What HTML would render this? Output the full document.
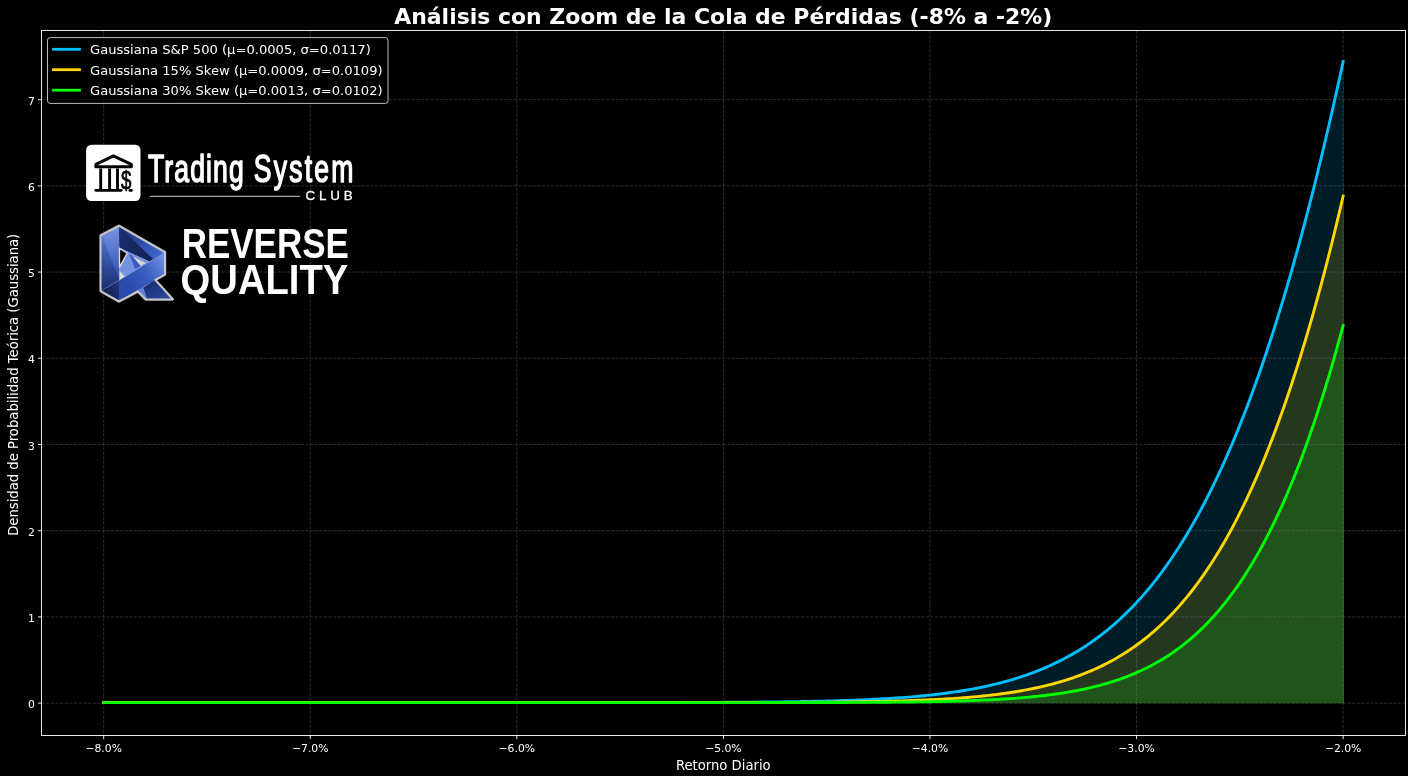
<!DOCTYPE html>
<html lang="es"><head><meta charset="utf-8"><title>Análisis con Zoom de la Cola de Pérdidas</title>
<style>html,body{margin:0;padding:0;background:#000;overflow:hidden}body{width:1408px;height:776px}svg text{white-space:pre}</style></head>
<body>
<svg width="1408" height="776" viewBox="0 0 1408 776" style="display:block">
<rect width="1408" height="776" fill="#000"/>
<polygon points="103.67,703.15 103.67,702.60 106.78,702.60 109.88,702.60 112.99,702.60 116.10,702.60 119.20,702.60 122.31,702.60 125.42,702.60 128.52,702.60 131.63,702.60 134.73,702.60 137.84,702.60 140.95,702.60 144.05,702.60 147.16,702.60 150.27,702.60 153.37,702.60 156.48,702.60 159.59,702.60 162.69,702.60 165.80,702.60 168.91,702.60 172.01,702.60 175.12,702.60 178.23,702.60 181.33,702.60 184.44,702.60 187.54,702.60 190.65,702.60 193.76,702.60 196.86,702.60 199.97,702.60 203.08,702.60 206.18,702.60 209.29,702.60 212.40,702.60 215.50,702.60 218.61,702.60 221.72,702.60 224.82,702.60 227.93,702.60 231.04,702.60 234.14,702.60 237.25,702.60 240.35,702.60 243.46,702.60 246.57,702.60 249.67,702.60 252.78,702.60 255.89,702.60 258.99,702.60 262.10,702.60 265.21,702.60 268.31,702.60 271.42,702.60 274.53,702.60 277.63,702.60 280.74,702.60 283.85,702.60 286.95,702.60 290.06,702.60 293.16,702.60 296.27,702.60 299.38,702.60 302.48,702.60 305.59,702.60 308.70,702.60 311.80,702.60 314.91,702.60 318.02,702.60 321.12,702.60 324.23,702.60 327.34,702.60 330.44,702.60 333.55,702.60 336.65,702.60 339.76,702.60 342.87,702.60 345.97,702.60 349.08,702.60 352.19,702.60 355.29,702.60 358.40,702.60 361.51,702.60 364.61,702.60 367.72,702.60 370.83,702.60 373.93,702.60 377.04,702.60 380.15,702.60 383.25,702.60 386.36,702.60 389.46,702.60 392.57,702.60 395.68,702.60 398.78,702.60 401.89,702.60 405.00,702.60 408.10,702.60 411.21,702.60 414.32,702.60 417.42,702.60 420.53,702.60 423.64,702.60 426.74,702.60 429.85,702.60 432.96,702.60 436.06,702.60 439.17,702.60 442.27,702.60 445.38,702.60 448.49,702.60 451.59,702.60 454.70,702.60 457.81,702.60 460.91,702.60 464.02,702.60 467.13,702.60 470.23,702.60 473.34,702.60 476.45,702.60 479.55,702.60 482.66,702.60 485.77,702.60 488.87,702.60 491.98,702.60 495.08,702.60 498.19,702.60 501.30,702.60 504.40,702.60 507.51,702.60 510.62,702.60 513.72,702.60 516.83,702.60 519.94,702.59 523.04,702.59 526.15,702.59 529.26,702.59 532.36,702.59 535.47,702.59 538.58,702.59 541.68,702.59 544.79,702.59 547.89,702.59 551.00,702.59 554.11,702.59 557.21,702.59 560.32,702.59 563.43,702.59 566.53,702.59 569.64,702.59 572.75,702.58 575.85,702.58 578.96,702.58 582.07,702.58 585.17,702.58 588.28,702.58 591.39,702.58 594.49,702.58 597.60,702.57 600.70,702.57 603.81,702.57 606.92,702.57 610.02,702.57 613.13,702.57 616.24,702.56 619.34,702.56 622.45,702.56 625.56,702.56 628.66,702.55 631.77,702.55 634.88,702.55 637.98,702.54 641.09,702.54 644.20,702.54 647.30,702.53 650.41,702.53 653.51,702.52 656.62,702.52 659.73,702.52 662.83,702.51 665.94,702.50 669.05,702.50 672.15,702.49 675.26,702.49 678.37,702.48 681.47,702.47 684.58,702.47 687.69,702.46 690.79,702.45 693.90,702.44 697.01,702.43 700.11,702.42 703.22,702.41 706.32,702.40 709.43,702.39 712.54,702.38 715.64,702.36 718.75,702.35 721.86,702.33 724.96,702.32 728.07,702.30 731.18,702.29 734.28,702.27 737.39,702.25 740.50,702.23 743.60,702.21 746.71,702.19 749.81,702.17 752.92,702.14 756.03,702.12 759.13,702.09 762.24,702.06 765.35,702.03 768.45,702.00 771.56,701.97 774.67,701.93 777.77,701.90 780.88,701.86 783.99,701.82 787.09,701.78 790.20,701.74 793.31,701.69 796.41,701.64 799.52,701.59 802.62,701.54 805.73,701.48 808.84,701.42 811.94,701.36 815.05,701.30 818.16,701.23 821.26,701.16 824.37,701.09 827.48,701.01 830.58,700.93 833.69,700.84 836.80,700.76 839.90,700.66 843.01,700.56 846.12,700.46 849.22,700.36 852.33,700.24 855.43,700.13 858.54,700.00 861.65,699.88 864.75,699.74 867.86,699.60 870.97,699.46 874.07,699.30 877.18,699.14 880.29,698.98 883.39,698.80 886.50,698.62 889.61,698.43 892.71,698.23 895.82,698.03 898.93,697.81 902.03,697.59 905.14,697.35 908.24,697.11 911.35,696.85 914.46,696.58 917.56,696.31 920.67,696.02 923.78,695.71 926.88,695.40 929.99,695.07 933.10,694.73 936.20,694.38 939.31,694.01 942.42,693.62 945.52,693.22 948.63,692.80 951.74,692.37 954.84,691.92 957.95,691.45 961.05,690.96 964.16,690.45 967.27,689.93 970.37,689.38 973.48,688.81 976.59,688.22 979.69,687.60 982.80,686.96 985.91,686.30 989.01,685.61 992.12,684.90 995.23,684.16 998.33,683.39 1001.44,682.59 1004.55,681.76 1007.65,680.91 1010.76,680.02 1013.86,679.09 1016.97,678.14 1020.08,677.15 1023.18,676.12 1026.29,675.06 1029.40,673.96 1032.50,672.82 1035.61,671.64 1038.72,670.41 1041.82,669.15 1044.93,667.84 1048.04,666.49 1051.14,665.09 1054.25,663.64 1057.36,662.14 1060.46,660.59 1063.57,658.99 1066.67,657.34 1069.78,655.63 1072.89,653.87 1075.99,652.04 1079.10,650.16 1082.21,648.22 1085.31,646.21 1088.42,644.14 1091.53,642.00 1094.63,639.80 1097.74,637.53 1100.85,635.18 1103.95,632.76 1107.06,630.27 1110.17,627.70 1113.27,625.06 1116.38,622.33 1119.48,619.52 1122.59,616.62 1125.70,613.64 1128.80,610.57 1131.91,607.42 1135.02,604.16 1138.12,600.82 1141.23,597.38 1144.34,593.84 1147.44,590.20 1150.55,586.46 1153.66,582.61 1156.76,578.65 1159.87,574.59 1162.97,570.41 1166.08,566.13 1169.19,561.72 1172.29,557.20 1175.40,552.55 1178.51,547.79 1181.61,542.90 1184.72,537.88 1187.83,532.73 1190.93,527.45 1194.04,522.04 1197.15,516.49 1200.25,510.80 1203.36,504.97 1206.47,498.99 1209.57,492.87 1212.68,486.60 1215.78,480.18 1218.89,473.61 1222.00,466.88 1225.10,460.00 1228.21,452.95 1231.32,445.75 1234.42,438.37 1237.53,430.84 1240.64,423.13 1243.74,415.25 1246.85,407.20 1249.96,398.97 1253.06,390.57 1256.17,381.98 1259.28,373.21 1262.38,364.26 1265.49,355.13 1268.59,345.81 1271.70,336.29 1274.81,326.59 1277.91,316.69 1281.02,306.60 1284.13,296.31 1287.23,285.82 1290.34,275.13 1293.45,264.24 1296.55,253.14 1299.66,241.85 1302.77,230.34 1305.87,218.63 1308.98,206.71 1312.09,194.58 1315.19,182.24 1318.30,169.69 1321.40,156.92 1324.51,143.95 1327.62,130.75 1330.72,117.35 1333.83,103.72 1336.94,89.88 1340.04,75.83 1343.15,61.56 1344.00,61.56 1344.00,703.15" fill="#00bfff" fill-opacity="0.15"/>
<polygon points="103.67,703.15 103.67,702.60 106.78,702.60 109.88,702.60 112.99,702.60 116.10,702.60 119.20,702.60 122.31,702.60 125.42,702.60 128.52,702.60 131.63,702.60 134.73,702.60 137.84,702.60 140.95,702.60 144.05,702.60 147.16,702.60 150.27,702.60 153.37,702.60 156.48,702.60 159.59,702.60 162.69,702.60 165.80,702.60 168.91,702.60 172.01,702.60 175.12,702.60 178.23,702.60 181.33,702.60 184.44,702.60 187.54,702.60 190.65,702.60 193.76,702.60 196.86,702.60 199.97,702.60 203.08,702.60 206.18,702.60 209.29,702.60 212.40,702.60 215.50,702.60 218.61,702.60 221.72,702.60 224.82,702.60 227.93,702.60 231.04,702.60 234.14,702.60 237.25,702.60 240.35,702.60 243.46,702.60 246.57,702.60 249.67,702.60 252.78,702.60 255.89,702.60 258.99,702.60 262.10,702.60 265.21,702.60 268.31,702.60 271.42,702.60 274.53,702.60 277.63,702.60 280.74,702.60 283.85,702.60 286.95,702.60 290.06,702.60 293.16,702.60 296.27,702.60 299.38,702.60 302.48,702.60 305.59,702.60 308.70,702.60 311.80,702.60 314.91,702.60 318.02,702.60 321.12,702.60 324.23,702.60 327.34,702.60 330.44,702.60 333.55,702.60 336.65,702.60 339.76,702.60 342.87,702.60 345.97,702.60 349.08,702.60 352.19,702.60 355.29,702.60 358.40,702.60 361.51,702.60 364.61,702.60 367.72,702.60 370.83,702.60 373.93,702.60 377.04,702.60 380.15,702.60 383.25,702.60 386.36,702.60 389.46,702.60 392.57,702.60 395.68,702.60 398.78,702.60 401.89,702.60 405.00,702.60 408.10,702.60 411.21,702.60 414.32,702.60 417.42,702.60 420.53,702.60 423.64,702.60 426.74,702.60 429.85,702.60 432.96,702.60 436.06,702.60 439.17,702.60 442.27,702.60 445.38,702.60 448.49,702.60 451.59,702.60 454.70,702.60 457.81,702.60 460.91,702.60 464.02,702.60 467.13,702.60 470.23,702.60 473.34,702.60 476.45,702.60 479.55,702.60 482.66,702.60 485.77,702.60 488.87,702.60 491.98,702.60 495.08,702.60 498.19,702.60 501.30,702.60 504.40,702.60 507.51,702.60 510.62,702.60 513.72,702.60 516.83,702.60 519.94,702.60 523.04,702.60 526.15,702.60 529.26,702.60 532.36,702.60 535.47,702.60 538.58,702.60 541.68,702.60 544.79,702.60 547.89,702.60 551.00,702.60 554.11,702.60 557.21,702.60 560.32,702.60 563.43,702.60 566.53,702.60 569.64,702.60 572.75,702.60 575.85,702.60 578.96,702.60 582.07,702.60 585.17,702.60 588.28,702.60 591.39,702.60 594.49,702.60 597.60,702.60 600.70,702.60 603.81,702.60 606.92,702.60 610.02,702.60 613.13,702.59 616.24,702.59 619.34,702.59 622.45,702.59 625.56,702.59 628.66,702.59 631.77,702.59 634.88,702.59 637.98,702.59 641.09,702.59 644.20,702.59 647.30,702.59 650.41,702.59 653.51,702.59 656.62,702.59 659.73,702.58 662.83,702.58 665.94,702.58 669.05,702.58 672.15,702.58 675.26,702.58 678.37,702.58 681.47,702.58 684.58,702.57 687.69,702.57 690.79,702.57 693.90,702.57 697.01,702.57 700.11,702.56 703.22,702.56 706.32,702.56 709.43,702.56 712.54,702.55 715.64,702.55 718.75,702.55 721.86,702.54 724.96,702.54 728.07,702.53 731.18,702.53 734.28,702.53 737.39,702.52 740.50,702.52 743.60,702.51 746.71,702.50 749.81,702.50 752.92,702.49 756.03,702.48 759.13,702.48 762.24,702.47 765.35,702.46 768.45,702.45 771.56,702.44 774.67,702.43 777.77,702.42 780.88,702.41 783.99,702.40 787.09,702.39 790.20,702.37 793.31,702.36 796.41,702.34 799.52,702.33 802.62,702.31 805.73,702.29 808.84,702.28 811.94,702.26 815.05,702.24 818.16,702.21 821.26,702.19 824.37,702.17 827.48,702.14 830.58,702.11 833.69,702.08 836.80,702.05 839.90,702.02 843.01,701.99 846.12,701.95 849.22,701.91 852.33,701.87 855.43,701.83 858.54,701.79 861.65,701.74 864.75,701.69 867.86,701.64 870.97,701.58 874.07,701.52 877.18,701.46 880.29,701.40 883.39,701.33 886.50,701.26 889.61,701.19 892.71,701.11 895.82,701.03 898.93,700.94 902.03,700.85 905.14,700.75 908.24,700.65 911.35,700.54 914.46,700.43 917.56,700.32 920.67,700.19 923.78,700.06 926.88,699.93 929.99,699.79 933.10,699.64 936.20,699.48 939.31,699.32 942.42,699.15 945.52,698.97 948.63,698.78 951.74,698.58 954.84,698.37 957.95,698.15 961.05,697.93 964.16,697.69 967.27,697.44 970.37,697.18 973.48,696.91 976.59,696.62 979.69,696.32 982.80,696.01 985.91,695.68 989.01,695.34 992.12,694.98 995.23,694.61 998.33,694.22 1001.44,693.81 1004.55,693.39 1007.65,692.95 1010.76,692.48 1013.86,692.00 1016.97,691.50 1020.08,690.97 1023.18,690.42 1026.29,689.85 1029.40,689.25 1032.50,688.63 1035.61,687.98 1038.72,687.31 1041.82,686.60 1044.93,685.87 1048.04,685.11 1051.14,684.32 1054.25,683.49 1057.36,682.63 1060.46,681.74 1063.57,680.81 1066.67,679.84 1069.78,678.83 1072.89,677.79 1075.99,676.70 1079.10,675.57 1082.21,674.40 1085.31,673.18 1088.42,671.92 1091.53,670.61 1094.63,669.24 1097.74,667.83 1100.85,666.36 1103.95,664.84 1107.06,663.26 1110.17,661.63 1113.27,659.93 1116.38,658.17 1119.48,656.35 1122.59,654.46 1125.70,652.51 1128.80,650.48 1131.91,648.39 1135.02,646.22 1138.12,643.97 1141.23,641.65 1144.34,639.25 1147.44,636.76 1150.55,634.19 1153.66,631.53 1156.76,628.79 1159.87,625.95 1162.97,623.02 1166.08,619.99 1169.19,616.87 1172.29,613.64 1175.40,610.31 1178.51,606.87 1181.61,603.33 1184.72,599.67 1187.83,595.89 1190.93,592.00 1194.04,587.99 1197.15,583.86 1200.25,579.60 1203.36,575.21 1206.47,570.69 1209.57,566.04 1212.68,561.25 1215.78,556.32 1218.89,551.25 1222.00,546.03 1225.10,540.66 1228.21,535.13 1231.32,529.46 1234.42,523.62 1237.53,517.63 1240.64,511.46 1243.74,505.14 1246.85,498.64 1249.96,491.96 1253.06,485.11 1256.17,478.08 1259.28,470.87 1262.38,463.47 1265.49,455.88 1268.59,448.10 1271.70,440.12 1274.81,431.95 1277.91,423.57 1281.02,414.99 1284.13,406.20 1287.23,397.20 1290.34,387.99 1293.45,378.56 1296.55,368.91 1299.66,359.04 1302.77,348.94 1305.87,338.62 1308.98,328.07 1312.09,317.29 1315.19,306.27 1318.30,295.01 1321.40,283.51 1324.51,271.77 1327.62,259.79 1330.72,247.56 1333.83,235.08 1336.94,222.35 1340.04,209.37 1343.15,196.13 1344.00,196.13 1344.00,703.15" fill="#ffd700" fill-opacity="0.15"/>
<polygon points="103.67,703.15 103.67,702.60 106.78,702.60 109.88,702.60 112.99,702.60 116.10,702.60 119.20,702.60 122.31,702.60 125.42,702.60 128.52,702.60 131.63,702.60 134.73,702.60 137.84,702.60 140.95,702.60 144.05,702.60 147.16,702.60 150.27,702.60 153.37,702.60 156.48,702.60 159.59,702.60 162.69,702.60 165.80,702.60 168.91,702.60 172.01,702.60 175.12,702.60 178.23,702.60 181.33,702.60 184.44,702.60 187.54,702.60 190.65,702.60 193.76,702.60 196.86,702.60 199.97,702.60 203.08,702.60 206.18,702.60 209.29,702.60 212.40,702.60 215.50,702.60 218.61,702.60 221.72,702.60 224.82,702.60 227.93,702.60 231.04,702.60 234.14,702.60 237.25,702.60 240.35,702.60 243.46,702.60 246.57,702.60 249.67,702.60 252.78,702.60 255.89,702.60 258.99,702.60 262.10,702.60 265.21,702.60 268.31,702.60 271.42,702.60 274.53,702.60 277.63,702.60 280.74,702.60 283.85,702.60 286.95,702.60 290.06,702.60 293.16,702.60 296.27,702.60 299.38,702.60 302.48,702.60 305.59,702.60 308.70,702.60 311.80,702.60 314.91,702.60 318.02,702.60 321.12,702.60 324.23,702.60 327.34,702.60 330.44,702.60 333.55,702.60 336.65,702.60 339.76,702.60 342.87,702.60 345.97,702.60 349.08,702.60 352.19,702.60 355.29,702.60 358.40,702.60 361.51,702.60 364.61,702.60 367.72,702.60 370.83,702.60 373.93,702.60 377.04,702.60 380.15,702.60 383.25,702.60 386.36,702.60 389.46,702.60 392.57,702.60 395.68,702.60 398.78,702.60 401.89,702.60 405.00,702.60 408.10,702.60 411.21,702.60 414.32,702.60 417.42,702.60 420.53,702.60 423.64,702.60 426.74,702.60 429.85,702.60 432.96,702.60 436.06,702.60 439.17,702.60 442.27,702.60 445.38,702.60 448.49,702.60 451.59,702.60 454.70,702.60 457.81,702.60 460.91,702.60 464.02,702.60 467.13,702.60 470.23,702.60 473.34,702.60 476.45,702.60 479.55,702.60 482.66,702.60 485.77,702.60 488.87,702.60 491.98,702.60 495.08,702.60 498.19,702.60 501.30,702.60 504.40,702.60 507.51,702.60 510.62,702.60 513.72,702.60 516.83,702.60 519.94,702.60 523.04,702.60 526.15,702.60 529.26,702.60 532.36,702.60 535.47,702.60 538.58,702.60 541.68,702.60 544.79,702.60 547.89,702.60 551.00,702.60 554.11,702.60 557.21,702.60 560.32,702.60 563.43,702.60 566.53,702.60 569.64,702.60 572.75,702.60 575.85,702.60 578.96,702.60 582.07,702.60 585.17,702.60 588.28,702.60 591.39,702.60 594.49,702.60 597.60,702.60 600.70,702.60 603.81,702.60 606.92,702.60 610.02,702.60 613.13,702.60 616.24,702.60 619.34,702.60 622.45,702.60 625.56,702.60 628.66,702.60 631.77,702.60 634.88,702.60 637.98,702.60 641.09,702.60 644.20,702.60 647.30,702.60 650.41,702.60 653.51,702.60 656.62,702.60 659.73,702.60 662.83,702.60 665.94,702.60 669.05,702.60 672.15,702.60 675.26,702.60 678.37,702.60 681.47,702.60 684.58,702.60 687.69,702.60 690.79,702.60 693.90,702.59 697.01,702.59 700.11,702.59 703.22,702.59 706.32,702.59 709.43,702.59 712.54,702.59 715.64,702.59 718.75,702.59 721.86,702.59 724.96,702.59 728.07,702.59 731.18,702.59 734.28,702.59 737.39,702.59 740.50,702.58 743.60,702.58 746.71,702.58 749.81,702.58 752.92,702.58 756.03,702.58 759.13,702.58 762.24,702.57 765.35,702.57 768.45,702.57 771.56,702.57 774.67,702.57 777.77,702.56 780.88,702.56 783.99,702.56 787.09,702.55 790.20,702.55 793.31,702.55 796.41,702.54 799.52,702.54 802.62,702.53 805.73,702.53 808.84,702.52 811.94,702.52 815.05,702.51 818.16,702.51 821.26,702.50 824.37,702.49 827.48,702.49 830.58,702.48 833.69,702.47 836.80,702.46 839.90,702.45 843.01,702.44 846.12,702.43 849.22,702.42 852.33,702.41 855.43,702.40 858.54,702.38 861.65,702.37 864.75,702.35 867.86,702.34 870.97,702.32 874.07,702.30 877.18,702.28 880.29,702.26 883.39,702.24 886.50,702.21 889.61,702.19 892.71,702.16 895.82,702.13 898.93,702.10 902.03,702.07 905.14,702.04 908.24,702.00 911.35,701.97 914.46,701.93 917.56,701.88 920.67,701.84 923.78,701.79 926.88,701.74 929.99,701.69 933.10,701.63 936.20,701.57 939.31,701.51 942.42,701.45 945.52,701.38 948.63,701.30 951.74,701.22 954.84,701.14 957.95,701.05 961.05,700.96 964.16,700.87 967.27,700.76 970.37,700.66 973.48,700.54 976.59,700.42 979.69,700.30 982.80,700.16 985.91,700.02 989.01,699.87 992.12,699.72 995.23,699.56 998.33,699.38 1001.44,699.20 1004.55,699.01 1007.65,698.81 1010.76,698.60 1013.86,698.38 1016.97,698.14 1020.08,697.90 1023.18,697.64 1026.29,697.37 1029.40,697.09 1032.50,696.79 1035.61,696.47 1038.72,696.14 1041.82,695.80 1044.93,695.44 1048.04,695.06 1051.14,694.66 1054.25,694.24 1057.36,693.81 1060.46,693.35 1063.57,692.87 1066.67,692.37 1069.78,691.84 1072.89,691.29 1075.99,690.72 1079.10,690.11 1082.21,689.48 1085.31,688.83 1088.42,688.14 1091.53,687.42 1094.63,686.66 1097.74,685.88 1100.85,685.06 1103.95,684.20 1107.06,683.31 1110.17,682.37 1113.27,681.40 1116.38,680.38 1119.48,679.32 1122.59,678.22 1125.70,677.06 1128.80,675.86 1131.91,674.61 1135.02,673.31 1138.12,671.95 1141.23,670.54 1144.34,669.06 1147.44,667.53 1150.55,665.94 1153.66,664.28 1156.76,662.56 1159.87,660.76 1162.97,658.90 1166.08,656.96 1169.19,654.95 1172.29,652.86 1175.40,650.69 1178.51,648.44 1181.61,646.10 1184.72,643.67 1187.83,641.16 1190.93,638.55 1194.04,635.84 1197.15,633.03 1200.25,630.12 1203.36,627.11 1206.47,623.99 1209.57,620.75 1212.68,617.40 1215.78,613.94 1218.89,610.35 1222.00,606.64 1225.10,602.80 1228.21,598.83 1231.32,594.73 1234.42,590.48 1237.53,586.10 1240.64,581.57 1243.74,576.89 1246.85,572.06 1249.96,567.08 1253.06,561.93 1256.17,556.62 1259.28,551.14 1262.38,545.49 1265.49,539.67 1268.59,533.66 1271.70,527.48 1274.81,521.10 1277.91,514.54 1281.02,507.78 1284.13,500.82 1287.23,493.66 1290.34,486.29 1293.45,478.71 1296.55,470.91 1299.66,462.90 1302.77,454.66 1305.87,446.19 1308.98,437.50 1312.09,428.56 1315.19,419.39 1318.30,409.97 1321.40,400.31 1324.51,390.40 1327.62,380.23 1330.72,369.80 1333.83,359.11 1336.94,348.15 1340.04,336.92 1343.15,325.42 1344.00,325.42 1344.00,703.15" fill="#00ff00" fill-opacity="0.15"/>
<g stroke="#808080" stroke-opacity="0.4" stroke-width="0.87" stroke-dasharray="3.23 1.4" fill="none"><line x1="103.67" y1="30.5" x2="103.67" y2="735.5"/><line x1="310.25" y1="30.5" x2="310.25" y2="735.5"/><line x1="516.83" y1="30.5" x2="516.83" y2="735.5"/><line x1="723.41" y1="30.5" x2="723.41" y2="735.5"/><line x1="929.99" y1="30.5" x2="929.99" y2="735.5"/><line x1="1136.57" y1="30.5" x2="1136.57" y2="735.5"/><line x1="1343.15" y1="30.5" x2="1343.15" y2="735.5"/><line x1="41.5" y1="703.15" x2="1405.5" y2="703.15"/><line x1="41.5" y1="616.93" x2="1405.5" y2="616.93"/><line x1="41.5" y1="530.71" x2="1405.5" y2="530.71"/><line x1="41.5" y1="444.49" x2="1405.5" y2="444.49"/><line x1="41.5" y1="358.27" x2="1405.5" y2="358.27"/><line x1="41.5" y1="272.05" x2="1405.5" y2="272.05"/><line x1="41.5" y1="185.83" x2="1405.5" y2="185.83"/><line x1="41.5" y1="99.61" x2="1405.5" y2="99.61"/></g>
<polyline points="103.67,702.60 106.78,702.60 109.88,702.60 112.99,702.60 116.10,702.60 119.20,702.60 122.31,702.60 125.42,702.60 128.52,702.60 131.63,702.60 134.73,702.60 137.84,702.60 140.95,702.60 144.05,702.60 147.16,702.60 150.27,702.60 153.37,702.60 156.48,702.60 159.59,702.60 162.69,702.60 165.80,702.60 168.91,702.60 172.01,702.60 175.12,702.60 178.23,702.60 181.33,702.60 184.44,702.60 187.54,702.60 190.65,702.60 193.76,702.60 196.86,702.60 199.97,702.60 203.08,702.60 206.18,702.60 209.29,702.60 212.40,702.60 215.50,702.60 218.61,702.60 221.72,702.60 224.82,702.60 227.93,702.60 231.04,702.60 234.14,702.60 237.25,702.60 240.35,702.60 243.46,702.60 246.57,702.60 249.67,702.60 252.78,702.60 255.89,702.60 258.99,702.60 262.10,702.60 265.21,702.60 268.31,702.60 271.42,702.60 274.53,702.60 277.63,702.60 280.74,702.60 283.85,702.60 286.95,702.60 290.06,702.60 293.16,702.60 296.27,702.60 299.38,702.60 302.48,702.60 305.59,702.60 308.70,702.60 311.80,702.60 314.91,702.60 318.02,702.60 321.12,702.60 324.23,702.60 327.34,702.60 330.44,702.60 333.55,702.60 336.65,702.60 339.76,702.60 342.87,702.60 345.97,702.60 349.08,702.60 352.19,702.60 355.29,702.60 358.40,702.60 361.51,702.60 364.61,702.60 367.72,702.60 370.83,702.60 373.93,702.60 377.04,702.60 380.15,702.60 383.25,702.60 386.36,702.60 389.46,702.60 392.57,702.60 395.68,702.60 398.78,702.60 401.89,702.60 405.00,702.60 408.10,702.60 411.21,702.60 414.32,702.60 417.42,702.60 420.53,702.60 423.64,702.60 426.74,702.60 429.85,702.60 432.96,702.60 436.06,702.60 439.17,702.60 442.27,702.60 445.38,702.60 448.49,702.60 451.59,702.60 454.70,702.60 457.81,702.60 460.91,702.60 464.02,702.60 467.13,702.60 470.23,702.60 473.34,702.60 476.45,702.60 479.55,702.60 482.66,702.60 485.77,702.60 488.87,702.60 491.98,702.60 495.08,702.60 498.19,702.60 501.30,702.60 504.40,702.60 507.51,702.60 510.62,702.60 513.72,702.60 516.83,702.60 519.94,702.59 523.04,702.59 526.15,702.59 529.26,702.59 532.36,702.59 535.47,702.59 538.58,702.59 541.68,702.59 544.79,702.59 547.89,702.59 551.00,702.59 554.11,702.59 557.21,702.59 560.32,702.59 563.43,702.59 566.53,702.59 569.64,702.59 572.75,702.58 575.85,702.58 578.96,702.58 582.07,702.58 585.17,702.58 588.28,702.58 591.39,702.58 594.49,702.58 597.60,702.57 600.70,702.57 603.81,702.57 606.92,702.57 610.02,702.57 613.13,702.57 616.24,702.56 619.34,702.56 622.45,702.56 625.56,702.56 628.66,702.55 631.77,702.55 634.88,702.55 637.98,702.54 641.09,702.54 644.20,702.54 647.30,702.53 650.41,702.53 653.51,702.52 656.62,702.52 659.73,702.52 662.83,702.51 665.94,702.50 669.05,702.50 672.15,702.49 675.26,702.49 678.37,702.48 681.47,702.47 684.58,702.47 687.69,702.46 690.79,702.45 693.90,702.44 697.01,702.43 700.11,702.42 703.22,702.41 706.32,702.40 709.43,702.39 712.54,702.38 715.64,702.36 718.75,702.35 721.86,702.33 724.96,702.32 728.07,702.30 731.18,702.29 734.28,702.27 737.39,702.25 740.50,702.23 743.60,702.21 746.71,702.19 749.81,702.17 752.92,702.14 756.03,702.12 759.13,702.09 762.24,702.06 765.35,702.03 768.45,702.00 771.56,701.97 774.67,701.93 777.77,701.90 780.88,701.86 783.99,701.82 787.09,701.78 790.20,701.74 793.31,701.69 796.41,701.64 799.52,701.59 802.62,701.54 805.73,701.48 808.84,701.42 811.94,701.36 815.05,701.30 818.16,701.23 821.26,701.16 824.37,701.09 827.48,701.01 830.58,700.93 833.69,700.84 836.80,700.76 839.90,700.66 843.01,700.56 846.12,700.46 849.22,700.36 852.33,700.24 855.43,700.13 858.54,700.00 861.65,699.88 864.75,699.74 867.86,699.60 870.97,699.46 874.07,699.30 877.18,699.14 880.29,698.98 883.39,698.80 886.50,698.62 889.61,698.43 892.71,698.23 895.82,698.03 898.93,697.81 902.03,697.59 905.14,697.35 908.24,697.11 911.35,696.85 914.46,696.58 917.56,696.31 920.67,696.02 923.78,695.71 926.88,695.40 929.99,695.07 933.10,694.73 936.20,694.38 939.31,694.01 942.42,693.62 945.52,693.22 948.63,692.80 951.74,692.37 954.84,691.92 957.95,691.45 961.05,690.96 964.16,690.45 967.27,689.93 970.37,689.38 973.48,688.81 976.59,688.22 979.69,687.60 982.80,686.96 985.91,686.30 989.01,685.61 992.12,684.90 995.23,684.16 998.33,683.39 1001.44,682.59 1004.55,681.76 1007.65,680.91 1010.76,680.02 1013.86,679.09 1016.97,678.14 1020.08,677.15 1023.18,676.12 1026.29,675.06 1029.40,673.96 1032.50,672.82 1035.61,671.64 1038.72,670.41 1041.82,669.15 1044.93,667.84 1048.04,666.49 1051.14,665.09 1054.25,663.64 1057.36,662.14 1060.46,660.59 1063.57,658.99 1066.67,657.34 1069.78,655.63 1072.89,653.87 1075.99,652.04 1079.10,650.16 1082.21,648.22 1085.31,646.21 1088.42,644.14 1091.53,642.00 1094.63,639.80 1097.74,637.53 1100.85,635.18 1103.95,632.76 1107.06,630.27 1110.17,627.70 1113.27,625.06 1116.38,622.33 1119.48,619.52 1122.59,616.62 1125.70,613.64 1128.80,610.57 1131.91,607.42 1135.02,604.16 1138.12,600.82 1141.23,597.38 1144.34,593.84 1147.44,590.20 1150.55,586.46 1153.66,582.61 1156.76,578.65 1159.87,574.59 1162.97,570.41 1166.08,566.13 1169.19,561.72 1172.29,557.20 1175.40,552.55 1178.51,547.79 1181.61,542.90 1184.72,537.88 1187.83,532.73 1190.93,527.45 1194.04,522.04 1197.15,516.49 1200.25,510.80 1203.36,504.97 1206.47,498.99 1209.57,492.87 1212.68,486.60 1215.78,480.18 1218.89,473.61 1222.00,466.88 1225.10,460.00 1228.21,452.95 1231.32,445.75 1234.42,438.37 1237.53,430.84 1240.64,423.13 1243.74,415.25 1246.85,407.20 1249.96,398.97 1253.06,390.57 1256.17,381.98 1259.28,373.21 1262.38,364.26 1265.49,355.13 1268.59,345.81 1271.70,336.29 1274.81,326.59 1277.91,316.69 1281.02,306.60 1284.13,296.31 1287.23,285.82 1290.34,275.13 1293.45,264.24 1296.55,253.14 1299.66,241.85 1302.77,230.34 1305.87,218.63 1308.98,206.71 1312.09,194.58 1315.19,182.24 1318.30,169.69 1321.40,156.92 1324.51,143.95 1327.62,130.75 1330.72,117.35 1333.83,103.72 1336.94,89.88 1340.04,75.83 1343.15,61.56" fill="none" stroke="#00bfff" stroke-width="2.9" stroke-linejoin="round" stroke-linecap="square"/>
<polyline points="103.67,702.60 106.78,702.60 109.88,702.60 112.99,702.60 116.10,702.60 119.20,702.60 122.31,702.60 125.42,702.60 128.52,702.60 131.63,702.60 134.73,702.60 137.84,702.60 140.95,702.60 144.05,702.60 147.16,702.60 150.27,702.60 153.37,702.60 156.48,702.60 159.59,702.60 162.69,702.60 165.80,702.60 168.91,702.60 172.01,702.60 175.12,702.60 178.23,702.60 181.33,702.60 184.44,702.60 187.54,702.60 190.65,702.60 193.76,702.60 196.86,702.60 199.97,702.60 203.08,702.60 206.18,702.60 209.29,702.60 212.40,702.60 215.50,702.60 218.61,702.60 221.72,702.60 224.82,702.60 227.93,702.60 231.04,702.60 234.14,702.60 237.25,702.60 240.35,702.60 243.46,702.60 246.57,702.60 249.67,702.60 252.78,702.60 255.89,702.60 258.99,702.60 262.10,702.60 265.21,702.60 268.31,702.60 271.42,702.60 274.53,702.60 277.63,702.60 280.74,702.60 283.85,702.60 286.95,702.60 290.06,702.60 293.16,702.60 296.27,702.60 299.38,702.60 302.48,702.60 305.59,702.60 308.70,702.60 311.80,702.60 314.91,702.60 318.02,702.60 321.12,702.60 324.23,702.60 327.34,702.60 330.44,702.60 333.55,702.60 336.65,702.60 339.76,702.60 342.87,702.60 345.97,702.60 349.08,702.60 352.19,702.60 355.29,702.60 358.40,702.60 361.51,702.60 364.61,702.60 367.72,702.60 370.83,702.60 373.93,702.60 377.04,702.60 380.15,702.60 383.25,702.60 386.36,702.60 389.46,702.60 392.57,702.60 395.68,702.60 398.78,702.60 401.89,702.60 405.00,702.60 408.10,702.60 411.21,702.60 414.32,702.60 417.42,702.60 420.53,702.60 423.64,702.60 426.74,702.60 429.85,702.60 432.96,702.60 436.06,702.60 439.17,702.60 442.27,702.60 445.38,702.60 448.49,702.60 451.59,702.60 454.70,702.60 457.81,702.60 460.91,702.60 464.02,702.60 467.13,702.60 470.23,702.60 473.34,702.60 476.45,702.60 479.55,702.60 482.66,702.60 485.77,702.60 488.87,702.60 491.98,702.60 495.08,702.60 498.19,702.60 501.30,702.60 504.40,702.60 507.51,702.60 510.62,702.60 513.72,702.60 516.83,702.60 519.94,702.60 523.04,702.60 526.15,702.60 529.26,702.60 532.36,702.60 535.47,702.60 538.58,702.60 541.68,702.60 544.79,702.60 547.89,702.60 551.00,702.60 554.11,702.60 557.21,702.60 560.32,702.60 563.43,702.60 566.53,702.60 569.64,702.60 572.75,702.60 575.85,702.60 578.96,702.60 582.07,702.60 585.17,702.60 588.28,702.60 591.39,702.60 594.49,702.60 597.60,702.60 600.70,702.60 603.81,702.60 606.92,702.60 610.02,702.60 613.13,702.59 616.24,702.59 619.34,702.59 622.45,702.59 625.56,702.59 628.66,702.59 631.77,702.59 634.88,702.59 637.98,702.59 641.09,702.59 644.20,702.59 647.30,702.59 650.41,702.59 653.51,702.59 656.62,702.59 659.73,702.58 662.83,702.58 665.94,702.58 669.05,702.58 672.15,702.58 675.26,702.58 678.37,702.58 681.47,702.58 684.58,702.57 687.69,702.57 690.79,702.57 693.90,702.57 697.01,702.57 700.11,702.56 703.22,702.56 706.32,702.56 709.43,702.56 712.54,702.55 715.64,702.55 718.75,702.55 721.86,702.54 724.96,702.54 728.07,702.53 731.18,702.53 734.28,702.53 737.39,702.52 740.50,702.52 743.60,702.51 746.71,702.50 749.81,702.50 752.92,702.49 756.03,702.48 759.13,702.48 762.24,702.47 765.35,702.46 768.45,702.45 771.56,702.44 774.67,702.43 777.77,702.42 780.88,702.41 783.99,702.40 787.09,702.39 790.20,702.37 793.31,702.36 796.41,702.34 799.52,702.33 802.62,702.31 805.73,702.29 808.84,702.28 811.94,702.26 815.05,702.24 818.16,702.21 821.26,702.19 824.37,702.17 827.48,702.14 830.58,702.11 833.69,702.08 836.80,702.05 839.90,702.02 843.01,701.99 846.12,701.95 849.22,701.91 852.33,701.87 855.43,701.83 858.54,701.79 861.65,701.74 864.75,701.69 867.86,701.64 870.97,701.58 874.07,701.52 877.18,701.46 880.29,701.40 883.39,701.33 886.50,701.26 889.61,701.19 892.71,701.11 895.82,701.03 898.93,700.94 902.03,700.85 905.14,700.75 908.24,700.65 911.35,700.54 914.46,700.43 917.56,700.32 920.67,700.19 923.78,700.06 926.88,699.93 929.99,699.79 933.10,699.64 936.20,699.48 939.31,699.32 942.42,699.15 945.52,698.97 948.63,698.78 951.74,698.58 954.84,698.37 957.95,698.15 961.05,697.93 964.16,697.69 967.27,697.44 970.37,697.18 973.48,696.91 976.59,696.62 979.69,696.32 982.80,696.01 985.91,695.68 989.01,695.34 992.12,694.98 995.23,694.61 998.33,694.22 1001.44,693.81 1004.55,693.39 1007.65,692.95 1010.76,692.48 1013.86,692.00 1016.97,691.50 1020.08,690.97 1023.18,690.42 1026.29,689.85 1029.40,689.25 1032.50,688.63 1035.61,687.98 1038.72,687.31 1041.82,686.60 1044.93,685.87 1048.04,685.11 1051.14,684.32 1054.25,683.49 1057.36,682.63 1060.46,681.74 1063.57,680.81 1066.67,679.84 1069.78,678.83 1072.89,677.79 1075.99,676.70 1079.10,675.57 1082.21,674.40 1085.31,673.18 1088.42,671.92 1091.53,670.61 1094.63,669.24 1097.74,667.83 1100.85,666.36 1103.95,664.84 1107.06,663.26 1110.17,661.63 1113.27,659.93 1116.38,658.17 1119.48,656.35 1122.59,654.46 1125.70,652.51 1128.80,650.48 1131.91,648.39 1135.02,646.22 1138.12,643.97 1141.23,641.65 1144.34,639.25 1147.44,636.76 1150.55,634.19 1153.66,631.53 1156.76,628.79 1159.87,625.95 1162.97,623.02 1166.08,619.99 1169.19,616.87 1172.29,613.64 1175.40,610.31 1178.51,606.87 1181.61,603.33 1184.72,599.67 1187.83,595.89 1190.93,592.00 1194.04,587.99 1197.15,583.86 1200.25,579.60 1203.36,575.21 1206.47,570.69 1209.57,566.04 1212.68,561.25 1215.78,556.32 1218.89,551.25 1222.00,546.03 1225.10,540.66 1228.21,535.13 1231.32,529.46 1234.42,523.62 1237.53,517.63 1240.64,511.46 1243.74,505.14 1246.85,498.64 1249.96,491.96 1253.06,485.11 1256.17,478.08 1259.28,470.87 1262.38,463.47 1265.49,455.88 1268.59,448.10 1271.70,440.12 1274.81,431.95 1277.91,423.57 1281.02,414.99 1284.13,406.20 1287.23,397.20 1290.34,387.99 1293.45,378.56 1296.55,368.91 1299.66,359.04 1302.77,348.94 1305.87,338.62 1308.98,328.07 1312.09,317.29 1315.19,306.27 1318.30,295.01 1321.40,283.51 1324.51,271.77 1327.62,259.79 1330.72,247.56 1333.83,235.08 1336.94,222.35 1340.04,209.37 1343.15,196.13" fill="none" stroke="#ffd700" stroke-width="2.9" stroke-linejoin="round" stroke-linecap="square"/>
<polyline points="103.67,702.60 106.78,702.60 109.88,702.60 112.99,702.60 116.10,702.60 119.20,702.60 122.31,702.60 125.42,702.60 128.52,702.60 131.63,702.60 134.73,702.60 137.84,702.60 140.95,702.60 144.05,702.60 147.16,702.60 150.27,702.60 153.37,702.60 156.48,702.60 159.59,702.60 162.69,702.60 165.80,702.60 168.91,702.60 172.01,702.60 175.12,702.60 178.23,702.60 181.33,702.60 184.44,702.60 187.54,702.60 190.65,702.60 193.76,702.60 196.86,702.60 199.97,702.60 203.08,702.60 206.18,702.60 209.29,702.60 212.40,702.60 215.50,702.60 218.61,702.60 221.72,702.60 224.82,702.60 227.93,702.60 231.04,702.60 234.14,702.60 237.25,702.60 240.35,702.60 243.46,702.60 246.57,702.60 249.67,702.60 252.78,702.60 255.89,702.60 258.99,702.60 262.10,702.60 265.21,702.60 268.31,702.60 271.42,702.60 274.53,702.60 277.63,702.60 280.74,702.60 283.85,702.60 286.95,702.60 290.06,702.60 293.16,702.60 296.27,702.60 299.38,702.60 302.48,702.60 305.59,702.60 308.70,702.60 311.80,702.60 314.91,702.60 318.02,702.60 321.12,702.60 324.23,702.60 327.34,702.60 330.44,702.60 333.55,702.60 336.65,702.60 339.76,702.60 342.87,702.60 345.97,702.60 349.08,702.60 352.19,702.60 355.29,702.60 358.40,702.60 361.51,702.60 364.61,702.60 367.72,702.60 370.83,702.60 373.93,702.60 377.04,702.60 380.15,702.60 383.25,702.60 386.36,702.60 389.46,702.60 392.57,702.60 395.68,702.60 398.78,702.60 401.89,702.60 405.00,702.60 408.10,702.60 411.21,702.60 414.32,702.60 417.42,702.60 420.53,702.60 423.64,702.60 426.74,702.60 429.85,702.60 432.96,702.60 436.06,702.60 439.17,702.60 442.27,702.60 445.38,702.60 448.49,702.60 451.59,702.60 454.70,702.60 457.81,702.60 460.91,702.60 464.02,702.60 467.13,702.60 470.23,702.60 473.34,702.60 476.45,702.60 479.55,702.60 482.66,702.60 485.77,702.60 488.87,702.60 491.98,702.60 495.08,702.60 498.19,702.60 501.30,702.60 504.40,702.60 507.51,702.60 510.62,702.60 513.72,702.60 516.83,702.60 519.94,702.60 523.04,702.60 526.15,702.60 529.26,702.60 532.36,702.60 535.47,702.60 538.58,702.60 541.68,702.60 544.79,702.60 547.89,702.60 551.00,702.60 554.11,702.60 557.21,702.60 560.32,702.60 563.43,702.60 566.53,702.60 569.64,702.60 572.75,702.60 575.85,702.60 578.96,702.60 582.07,702.60 585.17,702.60 588.28,702.60 591.39,702.60 594.49,702.60 597.60,702.60 600.70,702.60 603.81,702.60 606.92,702.60 610.02,702.60 613.13,702.60 616.24,702.60 619.34,702.60 622.45,702.60 625.56,702.60 628.66,702.60 631.77,702.60 634.88,702.60 637.98,702.60 641.09,702.60 644.20,702.60 647.30,702.60 650.41,702.60 653.51,702.60 656.62,702.60 659.73,702.60 662.83,702.60 665.94,702.60 669.05,702.60 672.15,702.60 675.26,702.60 678.37,702.60 681.47,702.60 684.58,702.60 687.69,702.60 690.79,702.60 693.90,702.59 697.01,702.59 700.11,702.59 703.22,702.59 706.32,702.59 709.43,702.59 712.54,702.59 715.64,702.59 718.75,702.59 721.86,702.59 724.96,702.59 728.07,702.59 731.18,702.59 734.28,702.59 737.39,702.59 740.50,702.58 743.60,702.58 746.71,702.58 749.81,702.58 752.92,702.58 756.03,702.58 759.13,702.58 762.24,702.57 765.35,702.57 768.45,702.57 771.56,702.57 774.67,702.57 777.77,702.56 780.88,702.56 783.99,702.56 787.09,702.55 790.20,702.55 793.31,702.55 796.41,702.54 799.52,702.54 802.62,702.53 805.73,702.53 808.84,702.52 811.94,702.52 815.05,702.51 818.16,702.51 821.26,702.50 824.37,702.49 827.48,702.49 830.58,702.48 833.69,702.47 836.80,702.46 839.90,702.45 843.01,702.44 846.12,702.43 849.22,702.42 852.33,702.41 855.43,702.40 858.54,702.38 861.65,702.37 864.75,702.35 867.86,702.34 870.97,702.32 874.07,702.30 877.18,702.28 880.29,702.26 883.39,702.24 886.50,702.21 889.61,702.19 892.71,702.16 895.82,702.13 898.93,702.10 902.03,702.07 905.14,702.04 908.24,702.00 911.35,701.97 914.46,701.93 917.56,701.88 920.67,701.84 923.78,701.79 926.88,701.74 929.99,701.69 933.10,701.63 936.20,701.57 939.31,701.51 942.42,701.45 945.52,701.38 948.63,701.30 951.74,701.22 954.84,701.14 957.95,701.05 961.05,700.96 964.16,700.87 967.27,700.76 970.37,700.66 973.48,700.54 976.59,700.42 979.69,700.30 982.80,700.16 985.91,700.02 989.01,699.87 992.12,699.72 995.23,699.56 998.33,699.38 1001.44,699.20 1004.55,699.01 1007.65,698.81 1010.76,698.60 1013.86,698.38 1016.97,698.14 1020.08,697.90 1023.18,697.64 1026.29,697.37 1029.40,697.09 1032.50,696.79 1035.61,696.47 1038.72,696.14 1041.82,695.80 1044.93,695.44 1048.04,695.06 1051.14,694.66 1054.25,694.24 1057.36,693.81 1060.46,693.35 1063.57,692.87 1066.67,692.37 1069.78,691.84 1072.89,691.29 1075.99,690.72 1079.10,690.11 1082.21,689.48 1085.31,688.83 1088.42,688.14 1091.53,687.42 1094.63,686.66 1097.74,685.88 1100.85,685.06 1103.95,684.20 1107.06,683.31 1110.17,682.37 1113.27,681.40 1116.38,680.38 1119.48,679.32 1122.59,678.22 1125.70,677.06 1128.80,675.86 1131.91,674.61 1135.02,673.31 1138.12,671.95 1141.23,670.54 1144.34,669.06 1147.44,667.53 1150.55,665.94 1153.66,664.28 1156.76,662.56 1159.87,660.76 1162.97,658.90 1166.08,656.96 1169.19,654.95 1172.29,652.86 1175.40,650.69 1178.51,648.44 1181.61,646.10 1184.72,643.67 1187.83,641.16 1190.93,638.55 1194.04,635.84 1197.15,633.03 1200.25,630.12 1203.36,627.11 1206.47,623.99 1209.57,620.75 1212.68,617.40 1215.78,613.94 1218.89,610.35 1222.00,606.64 1225.10,602.80 1228.21,598.83 1231.32,594.73 1234.42,590.48 1237.53,586.10 1240.64,581.57 1243.74,576.89 1246.85,572.06 1249.96,567.08 1253.06,561.93 1256.17,556.62 1259.28,551.14 1262.38,545.49 1265.49,539.67 1268.59,533.66 1271.70,527.48 1274.81,521.10 1277.91,514.54 1281.02,507.78 1284.13,500.82 1287.23,493.66 1290.34,486.29 1293.45,478.71 1296.55,470.91 1299.66,462.90 1302.77,454.66 1305.87,446.19 1308.98,437.50 1312.09,428.56 1315.19,419.39 1318.30,409.97 1321.40,400.31 1324.51,390.40 1327.62,380.23 1330.72,369.80 1333.83,359.11 1336.94,348.15 1340.04,336.92 1343.15,325.42" fill="none" stroke="#00ff00" stroke-width="2.9" stroke-linejoin="round" stroke-linecap="square"/>
<g stroke="#fff" stroke-width="0.9"><line x1="103.67" y1="735.5" x2="103.67" y2="739.1"/><line x1="310.25" y1="735.5" x2="310.25" y2="739.1"/><line x1="516.83" y1="735.5" x2="516.83" y2="739.1"/><line x1="723.41" y1="735.5" x2="723.41" y2="739.1"/><line x1="929.99" y1="735.5" x2="929.99" y2="739.1"/><line x1="1136.57" y1="735.5" x2="1136.57" y2="739.1"/><line x1="1343.15" y1="735.5" x2="1343.15" y2="739.1"/><line x1="41.5" y1="703.15" x2="37.9" y2="703.15"/><line x1="41.5" y1="616.93" x2="37.9" y2="616.93"/><line x1="41.5" y1="530.71" x2="37.9" y2="530.71"/><line x1="41.5" y1="444.49" x2="37.9" y2="444.49"/><line x1="41.5" y1="358.27" x2="37.9" y2="358.27"/><line x1="41.5" y1="272.05" x2="37.9" y2="272.05"/><line x1="41.5" y1="185.83" x2="37.9" y2="185.83"/><line x1="41.5" y1="99.61" x2="37.9" y2="99.61"/></g>
<rect x="41.5" y="30.5" width="1364.0" height="705.0" fill="none" stroke="#fff" stroke-width="0.9"/>
<g font-family="'DejaVu Sans', 'Liberation Sans', sans-serif" fill="#fff">
<g font-size="10.8" text-anchor="middle">
<text x="103.67" y="751.7">−8.0%</text>
<text x="310.25" y="751.7">−7.0%</text>
<text x="516.83" y="751.7">−6.0%</text>
<text x="723.41" y="751.7">−5.0%</text>
<text x="929.99" y="751.7">−4.0%</text>
<text x="1136.57" y="751.7">−3.0%</text>
<text x="1343.15" y="751.7">−2.0%</text>
</g>
<g font-size="10.8" text-anchor="end">
<text x="34.8" y="708.25">0</text>
<text x="34.8" y="622.03">1</text>
<text x="34.8" y="535.81">2</text>
<text x="34.8" y="449.59">3</text>
<text x="34.8" y="363.37">4</text>
<text x="34.8" y="277.15">5</text>
<text x="34.8" y="190.93">6</text>
<text x="34.8" y="104.71">7</text>
</g>
<text x="723.3" y="769.6" font-size="13.2" text-anchor="middle">Retorno Diario</text>
<text transform="translate(18.1,384.8) rotate(-90)" font-size="13.2" text-anchor="middle">Densidad de Probabilidad Teórica (Gaussiana)</text>
<text x="723.3" y="24" font-size="21.95" font-weight="bold" text-anchor="middle">Análisis con Zoom de la Cola de Pérdidas (-8% a -2%)</text>
<rect x="47.5" y="37.6" width="340.5" height="65.8" rx="2.6" fill="#000" fill-opacity="0.8" stroke="#cfcfcf" stroke-opacity="0.9" stroke-width="1"/>
<line x1="52.1" y1="49.3" x2="80.9" y2="49.3" stroke="#00bfff" stroke-width="2.8"/>
<text x="90.0" y="53.8" font-size="13.1">Gaussiana S&amp;P 500 (μ=0.0005, σ=0.0117)</text>
<line x1="52.1" y1="69.7" x2="80.9" y2="69.7" stroke="#ffd700" stroke-width="2.8"/>
<text x="90.0" y="74.8" font-size="13.1">Gaussiana 15% Skew (μ=0.0009, σ=0.0109)</text>
<line x1="52.1" y1="90.2" x2="80.9" y2="90.2" stroke="#00ff00" stroke-width="2.8"/>
<text x="90.0" y="95.2" font-size="13.1">Gaussiana 30% Skew (μ=0.0013, σ=0.0102)</text>
</g>
<rect x="86.1" y="144.8" width="54.4" height="56.2" rx="5.2" fill="#fff"/>
<g fill="none" stroke="#000" stroke-linecap="round" stroke-linejoin="round">
<path d="M95.9 166.8 L95.9 164.3 L113.4 155.9 L131.3 164.3 L131.3 166.8 Z" stroke-width="3.1"/>
<path d="M100.7 168.5 V189.3 M109.6 168.5 V189.3 M117.5 168.5 V189.3" stroke-width="2.9" stroke-linecap="butt"/>
<path d="M95.8 190.3 H121.2" stroke-width="2.8"/>
<path d="M129.9 190.4 H131.5" stroke-width="2.7"/>
</g>
<text x="126.1" y="188.7" font-family="'Liberation Sans', sans-serif" font-size="26" text-anchor="middle" fill="#000" stroke="#000" stroke-width="0.7" stroke-linejoin="round" transform="translate(126.1 0) scale(0.72 1) translate(-126.1 0)">$</text>
<g font-family="'Liberation Sans', sans-serif" fill="#fff">
<text transform="translate(147.9 182.3) scale(0.70 1)" font-size="38" stroke="#fff" stroke-width="1.5" stroke-linejoin="round" stroke-linecap="round" paint-order="stroke"><tspan letter-spacing="1.6">Trading </tspan><tspan x="151.3" letter-spacing="3.1">System</tspan></text>
<text x="305.4" y="200.0" font-size="13.4" textLength="47.4" lengthAdjust="spacing" stroke="#fff" stroke-width="0.3">CLUB</text>
</g>
<line x1="149.9" y1="196.25" x2="299.9" y2="196.25" stroke="#a6a6a6" stroke-width="1.25"/>
<defs><linearGradient id="gL1" gradientUnits="userSpaceOnUse" x1="112" y1="228" x2="112" y2="282"><stop offset="0" stop-color="#7693e0"/><stop offset="1" stop-color="#2c4bae"/></linearGradient><linearGradient id="gL2" gradientUnits="userSpaceOnUse" x1="106" y1="240" x2="106" y2="296"><stop offset="0" stop-color="#4a6fd2"/><stop offset="1" stop-color="#14245c"/></linearGradient><linearGradient id="gT1" gradientUnits="userSpaceOnUse" x1="120" y1="232" x2="150" y2="262"><stop offset="0" stop-color="#1b2e70"/><stop offset="1" stop-color="#13214f"/></linearGradient><linearGradient id="gT2" gradientUnits="userSpaceOnUse" x1="122" y1="230" x2="162" y2="256"><stop offset="0" stop-color="#1d3278"/><stop offset="0.5" stop-color="#2e4eb0"/><stop offset="1" stop-color="#4468cc"/></linearGradient><linearGradient id="gB1" gradientUnits="userSpaceOnUse" x1="119" y1="290" x2="165" y2="258"><stop offset="0" stop-color="#2541a0"/><stop offset="0.6" stop-color="#3c60c6"/><stop offset="1" stop-color="#7391e0"/></linearGradient><linearGradient id="gB2" gradientUnits="userSpaceOnUse" x1="102" y1="292" x2="130" y2="275"><stop offset="0" stop-color="#121f4e"/><stop offset="1" stop-color="#2a449c"/></linearGradient><linearGradient id="gLeg" gradientUnits="userSpaceOnUse" x1="150" y1="280" x2="165" y2="300"><stop offset="0" stop-color="#1a2d70"/><stop offset="1" stop-color="#2a469e"/></linearGradient><filter id="glow" x="-10%" y="-10%" width="120%" height="120%"><feGaussianBlur stdDeviation="0.55"/></filter></defs>
<polygon points="118.93,226.09 164.70,252.36 164.70,274.52 154.73,279.84 172.46,299.23 145.86,299.23 138.10,291.14 118.93,301.12 100.87,290.92 100.87,235.51" fill="#bdbdbd" stroke="#bdbdbd" stroke-width="3.0" stroke-linejoin="round" filter="url(#glow)"/>
<polygon points="138.33,290.92 154.73,279.84 172.46,299.23 145.86,299.23" fill="url(#gLeg)"/>
<polygon points="136.66,287.60 142.76,285.38 147.19,299.23 145.86,299.23 138.10,291.14" fill="#5d80da"/>
<polygon points="118.93,226.09 100.87,235.51 100.87,290.92 118.93,280.39" fill="url(#gL2)"/>
<polygon points="118.93,226.09 101.76,236.07 118.93,277.62" fill="url(#gL1)"/>
<polygon points="118.93,226.09 164.70,252.36 149.41,261.56 119.27,247.70" fill="url(#gT1)"/>
<polygon points="118.93,226.09 164.70,252.36 153.29,259.34" fill="url(#gT2)"/>
<polygon points="119.27,247.70 149.41,261.56 119.27,280.39" fill="#7693e0"/>
<polygon points="119.49,248.26 127.24,253.24 119.49,267.10" fill="#000"/>
<polygon points="119.49,248.26 127.24,253.24 119.49,267.10" fill="none" stroke="#d6d6d6" stroke-width="1.4" stroke-linejoin="round"/>
<polygon points="132.23,256.35 146.08,263.00 140.54,265.88" fill="#d4d4d4"/>
<polygon points="129.24,253.80 132.79,256.57 140.54,265.88 135.00,269.31" fill="#3a5cc0"/>
<polygon points="119.71,270.98 125.03,276.74 119.71,280.06" fill="#dcdcdc"/>
<polygon points="119.27,280.39 146.08,263.77 164.70,252.36 164.70,274.52 118.93,301.12 118.93,280.39" fill="url(#gB1)"/>
<polygon points="100.87,290.92 119.27,280.39 118.93,301.12" fill="url(#gB2)"/>
<polygon points="119.27,280.39 130.57,290.92 118.93,301.12" fill="#2c4cae" opacity="0.8"/>
<line x1="102.31" y1="290.04" x2="164.37" y2="253.02" stroke="#8aa6ea" stroke-width="0.35" opacity="0.8"/>
<polygon points="118.93,226.09 164.70,252.36 164.70,274.52 154.73,279.84 172.46,299.23 145.86,299.23 138.10,291.14 118.93,301.12 100.87,290.92 100.87,235.51" fill="none" stroke="#c9c9c9" stroke-width="1.4" stroke-linejoin="round"/>
<g font-family="'Liberation Sans', sans-serif" font-weight="bold" fill="#fff" font-size="42.2">
<text x="181.7" y="257.6" textLength="167.2" lengthAdjust="spacingAndGlyphs">REVERSE</text>
<text x="180.6" y="294.4" textLength="167.6" lengthAdjust="spacingAndGlyphs">QUALITY</text>
</g>
</svg>
</body></html>
